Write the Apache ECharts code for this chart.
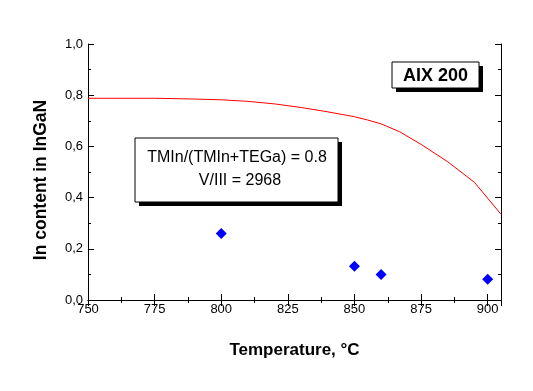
<!DOCTYPE html>
<html>
<head>
<meta charset="utf-8">
<script src="https://cdn.jsdelivr.net/npm/echarts@6/dist/echarts.min.js"></script>
<style>html,body{margin:0;padding:0;background:#fff;}#c{width:533px;height:391px;}</style>
</head>
<body>
<div id="c"></div>
<script>
// Measured points
const measTemp = [800, 850, 860, 900];
const measIn = [0.26, 0.132, 0.10, 0.081];
// Calculated curve
const calcTemp = [750, 775, 790, 800, 810, 820, 830, 840, 850, 855, 860, 867, 875, 885, 895, 905];
const calcIn = [0.788, 0.788, 0.785, 0.782, 0.776, 0.766, 0.752, 0.735, 0.716, 0.703, 0.688, 0.657, 0.608, 0.540, 0.460, 0.335];
const xTicks = [750, 775, 800, 825, 850, 875, 900];
const yTicks = [0.0, 0.2, 0.4, 0.6, 0.8, 1.0];
const boxLines = ['TMIn/(TMIn+TEGa) = 0.8', 'V/III = 2968'];
const labelText = 'AIX 200';

const font = 'Arial, "Liberation Sans", sans-serif';
const axisCommon = {
  type: 'value',
  axisLine: {show: true, lineStyle: {color: '#000', width: 1}},
  axisTick: {show: true, inside: true, length: 6, lineStyle: {color: '#000'}},
  minorTick: {show: true, splitNumber: 2, length: 3, lineStyle: {color: '#000'}},
  splitLine: {show: false},
  minorSplitLine: {show: false}
};
const chart = echarts.init(document.getElementById('c'), null, {renderer: 'canvas'});
chart.setOption({
  animation: false,
  backgroundColor: '#fff',
  grid: {left: 88, right: 32, top: 44, bottom: 91, containLabel: false},
  xAxis: [
    Object.assign({}, axisCommon, {
      min: 750, max: 905, interval: 25, position: 'bottom',
      name: 'Temperature, °C', nameLocation: 'middle', nameGap: 42,
      nameTextStyle: {fontFamily: font, fontSize: 17, fontWeight: 'bold', color: '#000'},
      axisLabel: {fontFamily: font, fontSize: 13, color: '#000', margin: 3, showMaxLabel: false,
        formatter: v => xTicks.indexOf(v) >= 0 ? String(v) : ''}
    }),
    Object.assign({}, axisCommon, {
      min: 750, max: 905, interval: 25, position: 'top', axisLabel: {show: false}
    })
  ],
  yAxis: [
    Object.assign({}, axisCommon, {
      min: 0, max: 1, interval: 0.2, position: 'left',
      name: 'In content in InGaN', nameLocation: 'middle', nameGap: 38,
      nameTextStyle: {fontFamily: font, fontSize: 17.5, fontWeight: 'bold', color: '#000', padding: [0, 16, 0, 0]},
      axisLabel: {fontFamily: font, fontSize: 13, color: '#000', margin: 5,
        formatter: v => {
          const t = yTicks.find(k => Math.abs(k - v) < 1e-9);
          return t === undefined ? '' : t.toFixed(1).replace('.', ',');
        }}
    }),
    Object.assign({}, axisCommon, {
      min: 0, max: 1, interval: 0.2, position: 'right', axisLabel: {show: false}
    })
  ],
  series: [
    {
      type: 'line', xAxisIndex: 0, yAxisIndex: 0,
      data: calcTemp.map((t, i) => [t, calcIn[i]]),
      showSymbol: false, symbol: 'none', smooth: false,
      lineStyle: {color: '#ff0000', width: 1}, z: 3
    },
    {
      type: 'scatter', xAxisIndex: 0, yAxisIndex: 0,
      data: measTemp.map((t, i) => [t, measIn[i]]),
      symbol: 'diamond', symbolSize: 11,
      itemStyle: {color: '#0000ff', opacity: 1}, z: 4
    }
  ],
  graphic: [
    {type: 'rect', shape: {x: 139, y: 142, width: 203, height: 64}, style: {fill: '#000'}, z: 10},
    {type: 'rect', shape: {x: 135, y: 138, width: 203, height: 64}, style: {fill: '#fff', stroke: '#000', lineWidth: 1}, z: 11},
    {type: 'text', x: 237, y: 158, style: {text: boxLines[0], fontFamily: font, fontSize: 16, fill: '#000', align: 'center', verticalAlign: 'middle'}, z: 12},
    {type: 'text', x: 240, y: 181, style: {text: boxLines[1], fontFamily: font, fontSize: 16, fill: '#000', align: 'center', verticalAlign: 'middle'}, z: 12},
    {type: 'rect', shape: {x: 396, y: 66, width: 87, height: 26}, style: {fill: '#000'}, z: 10},
    {type: 'rect', shape: {x: 392, y: 62, width: 87, height: 26}, style: {fill: '#fff', stroke: '#000', lineWidth: 1}, z: 11},
    {type: 'text', x: 435.5, y: 76, style: {text: labelText, fontFamily: font, fontSize: 18, fontWeight: 'bold', fill: '#000', align: 'center', verticalAlign: 'middle'}, z: 12}
  ]
});
</script>
</body>
</html>
